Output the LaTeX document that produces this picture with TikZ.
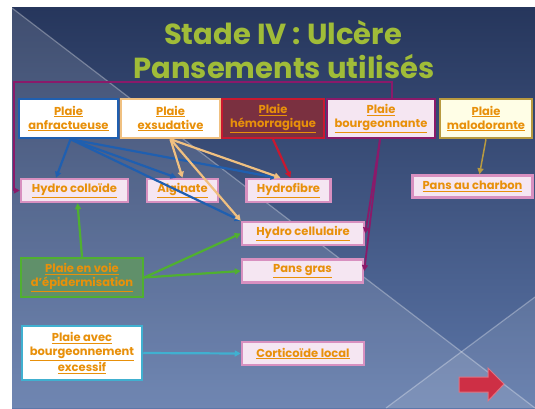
\documentclass[tikz,border=0pt]{standalone}
\usepackage{fontspec}
\setmainfont{Poppins}
\usepackage{tikz}
\usetikzlibrary{arrows.meta}

\definecolor{fond}{HTML}{26365C}
\definecolor{fondbas}{HTML}{5C76A8}
\definecolor{titre}{HTML}{A0BC38}
\definecolor{lien}{HTML}{E8900A}
\definecolor{bleu}{HTML}{1F5FB0}
\definecolor{sable}{HTML}{F0C080}
\definecolor{rouge}{HTML}{C81830}
\definecolor{grenat}{HTML}{7A3040}
\definecolor{violet}{HTML}{8A1A6A}
\definecolor{rose}{HTML}{F5E6F2}
\definecolor{roseborder}{HTML}{D890C0}
\definecolor{olive}{HTML}{B89A40}
\definecolor{vert}{HTML}{50B030}
\definecolor{vertfond}{HTML}{60906A}
\definecolor{cyan}{HTML}{40B0D0}

\begin{document}
\begin{tikzpicture}[x=1pt, y=-1pt,
    >={Triangle[length=6pt,width=6pt]},
    plaie/.style={draw, line width=2.5pt, align=center, text=lien,
      font=\fontsize{11.5}{14}\selectfont\bfseries, inner sep=1pt},
    pansement/.style={plaie, fill=rose, draw=roseborder, minimum height=23pt},
    fleche/.style={->, line width=2.2pt}]
%%% fond de la diapositive %%%

      \useasboundingbox (0,0) rectangle (535,408);
      \fill[white] (0,0) rectangle (535,408);
      \shade[top color=fond, bottom color=fondbas] (12,7) rectangle (535,408);
      \fill[white, opacity=.12] (12,8) -- (535,408) -- (12,408) -- cycle;
      \fill[white, opacity=.10] (386,408) -- (535,297) -- (535,408) -- cycle;
      \draw[white, opacity=.3, line width=1.2pt] (12,8) -- (535,408);
      \draw[white, opacity=.3, line width=1.2pt] (386,408) -- (535,297);

      %% titre
      \node[text=titre, font=\fontsize{29}{32}\selectfont\bfseries] (titre1) at (283,33) {Stade IV : Ulcère};
      \node[text=titre, font=\fontsize{29}{32}\selectfont\bfseries] (titre2) at (284,67) {Pansements utilisés};

      %% plaies
      \node[plaie, fill=white, draw=bleu, minimum width=99pt, minimum height=39pt] (anfr) at (68.5,118.5)
        {\underline{Plaie}\\\underline{anfractueuse}};
      \node[plaie, fill=white, draw=sable, minimum width=99pt, minimum height=39pt] (exsud) at (170.5,118.5)
        {\underline{Plaie}\\\underline{exsudative}};
      \node[plaie, fill=grenat, draw=rouge, minimum width=102pt, minimum height=39pt] (hemo) at (273,118.5)
        {\underline{Plaie}\\\underline{hémorragique}};
      \node[plaie, fill=rose, draw=violet, minimum width=108pt, minimum height=39pt] (bourg) at (381,118.5)
        {\underline{Plaie}\\\underline{bourgeonnante}};
      \node[plaie, fill=white!90!yellow, draw=olive, minimum width=92pt, minimum height=39pt] (malod) at (486,118.5)
        {\underline{Plaie}\\\underline{malodorante}};
      \node[plaie, fill=vertfond, draw=vert, minimum width=122pt, minimum height=39pt] (epid) at (82,277.5)
        {\underline{Plaie en voie}\\\underline{d'épidermisation}};
      \node[plaie, fill=white, draw=cyan, minimum width=120pt, minimum height=54pt] (exces) at (82,353)
        {\underline{Plaie avec}\\\underline{bourgeonnement}\\\underline{excessif}};

      %% pansements
      \node[pansement, minimum width=107pt] (hcoll) at (74.5,190.5) {\underline{Hydro colloïde}};
      \node[pansement, minimum width=71pt] (algin) at (182.5,190.5) {\underline{Alginate}};
      \node[pansement, minimum width=84pt] (hfib) at (288.5,190.5) {\underline{Hydrofibre}};
      \node[pansement, minimum width=120pt, minimum height=22pt] (charbon) at (472.5,186.5) {\underline{Pans au charbon}};
      \node[pansement, minimum width=122pt] (hcell) at (303,233.5) {\underline{Hydro cellulaire}};
      \node[pansement, minimum width=121pt] (gras) at (302.5,271) {\underline{Pans gras}};
      \node[pansement, minimum width=122pt] (cortic) at (303,353.5) {\underline{Corticoïde local}};

      %% plaie anfractueuse
      \draw[fleche, bleu] (anfr.south) ++(2,0) coordinate (a0) -- (hcoll.north west -| 56,0);
      \draw[fleche, bleu] (a0) -- ([xshift=-6pt]algin.north);
      \draw[fleche, bleu] (a0) -- ([xshift=-12pt]hfib.north);
      \draw[fleche, bleu] (a0) -- (hcell.north west);

      %% plaie exsudative
      \draw[fleche, sable] (exsud.south) ++(0,0) coordinate (e0) -- (algin.north);
      \draw[fleche, sable] (e0) -- ([xshift=-8pt]hfib.north);
      \draw[fleche, sable] (e0) -- (hcell.north west);

      %% plaie hemorragique
      \draw[fleche, rouge] (hemo.south) -- ([xshift=2pt]hfib.north);

      %% plaie bourgeonnante
      \draw[fleche, violet, line width=1.8pt] (bourg.north) ++(11,0) |- (14,82) |- (hcoll.west);
      \draw[fleche, violet, line width=1.8pt] ([xshift=-1pt]bourg.south) -- (hcell.east);
      \draw[fleche, violet, line width=1.8pt] ([xshift=-1pt]bourg.south) -- (gras.east);

      %% plaie malodorante
      \draw[fleche, olive, line width=1.5pt] (malod.south) -- ([xshift=7pt]charbon.north);

      %% plaie en voie d'epidermisation
      \draw[fleche, vert] (epid.north) -- ([xshift=3pt]hcoll.south);
      \draw[fleche, vert] (epid.east) -- (hcell.west);
      \draw[fleche, vert] (epid.east) -- (gras.west);

      %% bourgeonnement excessif
      \draw[fleche, cyan] (exces.east) -- (cortic.west);

      %% fleche suivante
      \fill[rouge!90!white, draw=rouge!60!white, line width=1pt]
        (459,377) -- (488,377) -- (488,368) -- (504,384) -- (488,401) -- (488,392) -- (459,392) -- cycle;

\end{tikzpicture}
\end{document}
